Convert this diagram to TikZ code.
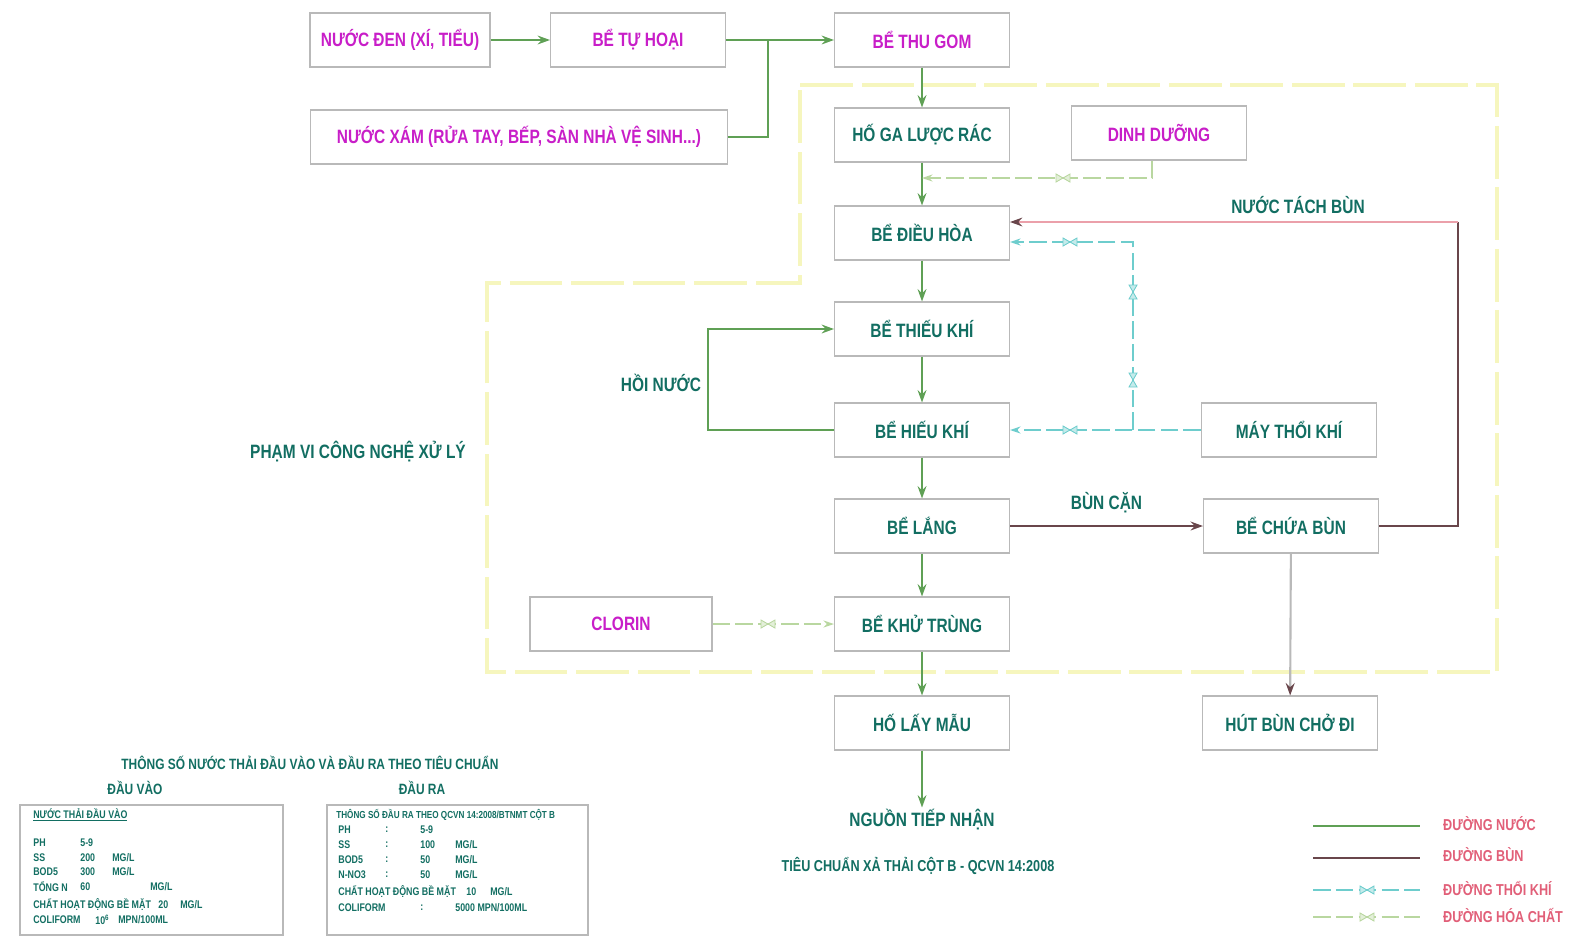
\documentclass[tikz,border=0pt]{standalone}
\usepackage{fontspec}
\setmainfont{Liberation Sans}[FakeStretch=0.8]
\usepackage{tikz}
\usetikzlibrary{arrows.meta}
\definecolor{cadteal}{RGB}{18,110,98}
\definecolor{cadpink}{RGB}{200,30,200}
\definecolor{boxgray}{RGB}{185,185,185}
\definecolor{waterline}{RGB}{95,160,85}
\definecolor{mudline}{RGB}{105,70,75}
\definecolor{airline}{RGB}{110,205,205}
\definecolor{chemline}{RGB}{185,215,160}
\definecolor{zoneyellow}{RGB}{246,246,190}
\definecolor{legendred}{RGB}{225,95,120}
\definecolor{sepline}{RGB}{235,160,170}
\newcommand{\mgl}{MG/L}
% small valve mark on a pipe
\newcommand{\valvemark}[3]{\filldraw[#1,fill=#1!40,line width=.5pt,shift={#2},rotate=#3] (-7,-4) -- (7,4) -- (7,-4) -- (-7,4) -- cycle;}

\begin{document}
\begin{tikzpicture}[x=0.02cm,y=-0.02cm,
    box/.style={draw=boxgray,line width=.6pt,minimum width=3.5cm,minimum height=1.08cm,inner sep=1pt,text=cadteal,font=\fontsize{11}{13}\selectfont\bfseries},
    srcbox/.style={box,text=cadpink},
    lbl/.style={text=cadteal,font=\fontsize{11}{13}\selectfont\bfseries,inner sep=1pt},
    water/.style={waterline,line width=1.1pt,-{Stealth[length=7pt,width=5pt]}},
    air/.style={airline,line width=.8pt,dash pattern=on 10pt off 3pt,-{Stealth[length=6pt,width=4pt]}},
    chem/.style={chemline,line width=.8pt,dash pattern=on 10pt off 3pt,-{Stealth[length=6pt,width=4pt]}},
    mud/.style={mudline,line width=1.4pt,-{Stealth[length=7pt,width=5pt]}},
    tbl/.style={text=cadteal,font=\fontsize{6.3}{7}\selectfont\bfseries,anchor=west,inner sep=0pt},
    legtxt/.style={text=legendred,font=\fontsize{9}{10}\selectfont\bfseries,anchor=west}]
  \useasboundingbox (0,0) rectangle (1581,947);

  % treatment zone
  \draw[zoneyellow,line width=2.8pt,dash pattern=on 30pt off 5pt]
    (800,85) -- (1497,85) -- (1497,672) -- (487,672) -- (487,283) -- (800,283) -- cycle;
  \node[lbl] (phamvi) at (358,452) {PHẠM VI CÔNG NGHỆ XỬ LÝ};

  % sources
  \node[srcbox,minimum width=3.6cm] (nuocden) at (400,40) {NƯỚC ĐEN (XÍ, TIỂU)};
  \node[srcbox] (tuhoai) at (638,40) {BỂ TỰ HOẠI};
  \node[srcbox] (thugom) at (922,40) {BỂ THU GOM};
  \node[srcbox,minimum width=8.36cm] (nuocxam) at (519,137) {NƯỚC XÁM (RỬA TAY, BẾP, SÀN NHÀ VỆ SINH...)};

  % main line
  \node[box] (hoga) at (922,135) {HỐ GA LƯỢC RÁC};
  \node[srcbox] (dinhduong) at (1159,133) {DINH DƯỠNG};
  \node[box] (dieuhoa) at (922,233) {BỂ ĐIỀU HÒA};
  \node[box] (thieukhi) at (922,329) {BỂ THIẾU KHÍ};
  \node[box] (hieukhi) at (922,430) {BỂ HIẾU KHÍ};
  \node[box] (maythoi) at (1289,430) {MÁY THỔI KHÍ};
  \node[box] (lang) at (922,526) {BỂ LẮNG};
  \node[box] (chuabun) at (1291,526) {BỂ CHỨA BÙN};
  \node[srcbox,minimum width=3.64cm] (clorin) at (621,624) {CLORIN};
  \node[box] (khutrung) at (922,624) {BỂ KHỬ TRÙNG};
  \node[box] (laymau) at (922,723) {HỐ LẤY MẪU};
  \node[box] (hutbun) at (1290,723) {HÚT BÙN CHỞ ĐI};
  \node[lbl] (nguon) at (922,820) {NGUỒN TIẾP NHẬN};
  \node[lbl,font=\fontsize{9}{10}\selectfont\bfseries] (tieuchuan) at (918,866) {TIÊU CHUẨN XẢ THẢI CỘT B - QCVN 14:2008};

  % water
  \coordinate (nhap) at (768,40);
  \draw[water] (nuocden) -- (tuhoai);
  \draw[water,-] (tuhoai) -- (nhap);
  \draw[water,-] (nuocxam.east) -| (nhap);
  \draw[water] (nhap) -- (thugom);
  \foreach \a/\b in {thugom/hoga,hoga/dieuhoa,dieuhoa/thieukhi,thieukhi/hieukhi,hieukhi/lang,lang/khutrung,khutrung/laymau}
    \draw[water] (\a) -- (\b);
  \draw[water] (laymau) -- (nguon);

  % return water
  \coordinate (hoi) at (708,430);
  \node[lbl] (hoinuoc) at (661,383) {HỒI NƯỚC};
  \draw[water] (hieukhi.west) -- (hoi) |- (thieukhi.west);

  % air
  \coordinate (khi1) at (1133,430);
  \coordinate (khi2) at (1133,242);
  \draw[air] (maythoi) -- (hieukhi);
  \draw[air] (khi1) -- (khi2) -- (dieuhoa.east |- khi2);
  \valvemark{airline}{(1070,430)}{0}
  \valvemark{airline}{(1070,242)}{0}
  \valvemark{airline}{(1133,292)}{90}
  \valvemark{airline}{(1133,380)}{90}

  % chemicals
  \coordinate (dd) at (1152,178);
  \draw[chem] (dinhduong.south -| dd) -- (dd) -- (hoga.south |- dd);
  \draw[chem] (clorin) -- (khutrung);
  \valvemark{chemline}{(1063,178)}{0}
  \valvemark{chemline}{(768,624)}{0}

  % sludge
  \draw[mud] (lang) -- (chuabun) node[midway,above=6pt,lbl] (buncan) {BÙN CẶN};
  \coordinate (tach1) at (1458,526);
  \coordinate (tach2) at (1458,222);
  \draw[mud,-] (chuabun.east) -- (tach1) -- (tach2);
  \draw[sepline,line width=1pt,-{Stealth[length=7pt,width=5pt,color=mudline]}] (tach2) -- (dieuhoa.east |- tach2);
  \node[lbl] (tachbun) at (1298,205) {NƯỚC TÁCH BÙN};
  \draw[boxgray,line width=1.2pt,-{Stealth[length=7pt,width=5pt,color=mudline]}] (chuabun) -- (hutbun);

  % parameter tables
  \node[lbl,font=\fontsize{8.5}{10}\selectfont\bfseries] (tblhead) at (310,763) {THÔNG SỐ NƯỚC THẢI ĐẦU VÀO VÀ ĐẦU RA THEO TIÊU CHUẨN};
  \node[lbl,font=\fontsize{8.5}{10}\selectfont\bfseries] (dauvao) at (135,788) {ĐẦU VÀO};
  \node[lbl,font=\fontsize{8.5}{10}\selectfont\bfseries] (daura) at (422,788) {ĐẦU RA};
  \draw[boxgray,line width=1pt] (20,805) rectangle (283,935);
  \draw[boxgray,line width=1pt] (327,805) rectangle (588,935);
  \node[tbl] (vaohead) at (33,815) {\underline{NƯỚC THẢI ĐẦU VÀO}};
  \foreach \y/\a/\b/\c in {843/PH/5-9/,858/SS/200/\mgl,872/BOD5/300/\mgl}{
    \node[tbl] at (33,\y) {\a};
    \node[tbl] at (80,\y) {\b};
    \node[tbl] at (112,\y) {\c};
  }
  \node[tbl] at (33,887) {TỔNG N};
  \node[tbl] at (80,887) {60};
  \node[tbl] at (150,887) {\mgl};
  \node[tbl] at (33,905) {CHẤT HOẠT ĐỘNG BỀ MẶT};
  \node[tbl] at (158,905) {20};
  \node[tbl] at (180,905) {\mgl};
  \node[tbl] at (33,920) {COLIFORM};
  \node[tbl] at (95,920) {10\textsuperscript{6}};
  \node[tbl] at (118,920) {MPN/100ML};
  \node[tbl,font=\fontsize{5.8}{7}\selectfont\bfseries] (rahead) at (336,815) {THÔNG SỐ ĐẦU RA THEO QCVN 14:2008/BTNMT CỘT B};
  \foreach \y/\a/\b/\c in {830/PH/5-9/,845/SS/100/\mgl,860/BOD5/50/\mgl,875/N-NO3/50/\mgl}{
    \node[tbl] at (338,\y) {\a};
    \node[tbl] at (385,\y) {:};
    \node[tbl] at (420,\y) {\b};
    \node[tbl] at (455,\y) {\c};
  }
  \node[tbl] at (338,892) {CHẤT HOẠT ĐỘNG BỀ MẶT};
  \node[tbl] at (466,892) {10};
  \node[tbl] at (490,892) {\mgl};
  \node[tbl] at (338,908) {COLIFORM};
  \node[tbl] at (420,908) {:};
  \node[tbl] at (455,908) {5000 MPN/100ML};

  % legend
  \node[legtxt] (lg1) at (1437,824) {ĐƯỜNG NƯỚC};
  \node[legtxt] (lg2) at (1437,855) {ĐƯỜNG BÙN};
  \node[legtxt] (lg3) at (1437,888) {ĐƯỜNG THỔI KHÍ};
  \node[legtxt] (lg4) at (1437,915) {ĐƯỜNG HÓA CHẤT};
  \draw[water,-] (lg1.west) ++(-124,2) -- ++(107,0);
  \draw[mud,-] (lg2.west) ++(-124,3) -- ++(107,0);
  \draw[air,-] (lg3.west) ++(-124,2) -- ++(107,0);
  \draw[chem,-] (lg4.west) ++(-124,2) -- ++(107,0);
  \valvemark{airline}{(1367,890)}{0}
  \valvemark{chemline}{(1367,917)}{0}
\end{tikzpicture}
\end{document}
